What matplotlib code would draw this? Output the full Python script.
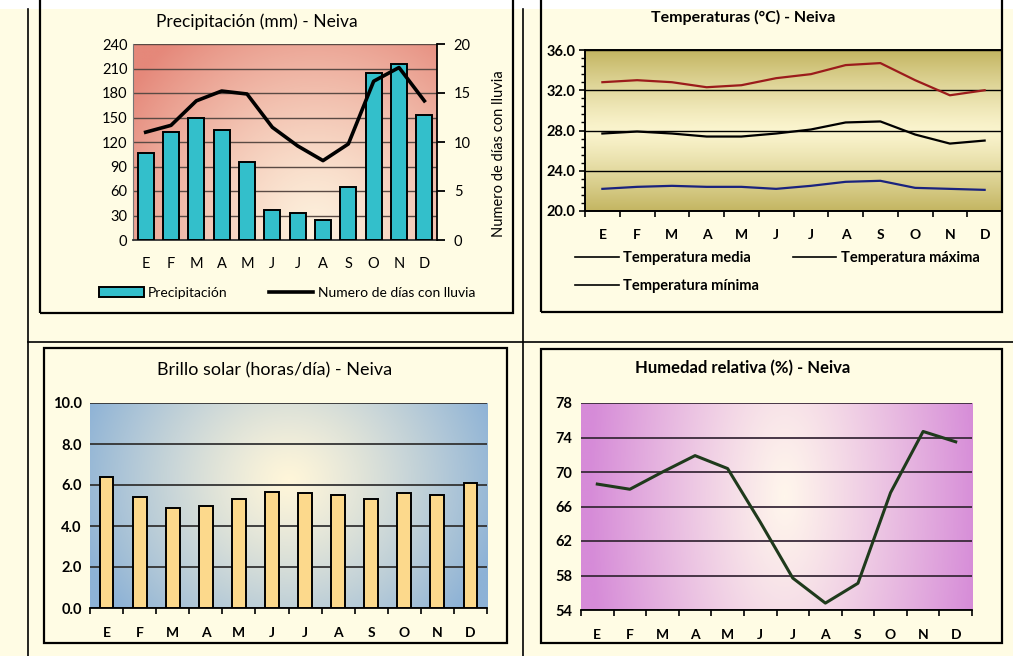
import numpy as np
import matplotlib
matplotlib.use('Agg')
import matplotlib.pyplot as plt
from matplotlib.colors import LinearSegmentedColormap
from matplotlib.patches import Rectangle, Patch
from matplotlib.lines import Line2D
from matplotlib.ticker import AutoMinorLocator

plt.rcParams['font.family'] = ['Lato', 'DejaVu Sans']

W, H = 1013, 656

# datos climaticos - Neiva
meses = ['E', 'F', 'M', 'A', 'M', 'J', 'J', 'A', 'S', 'O', 'N', 'D']
precipitacion = [107, 132, 149, 135, 96, 37, 33, 24, 65, 204, 216, 153]
dias_lluvia = [11.0, 11.7, 14.2, 15.2, 14.9, 11.5, 9.6, 8.1, 9.8, 16.2, 17.6, 14.2]
temp_maxima = [32.8, 33.0, 32.8, 32.3, 32.5, 33.2, 33.6, 34.5, 34.7, 33.0, 31.5, 32.0]
temp_media = [27.7, 27.9, 27.7, 27.4, 27.4, 27.7, 28.1, 28.8, 28.9, 27.6, 26.7, 27.0]
temp_minima = [22.2, 22.4, 22.5, 22.4, 22.4, 22.2, 22.5, 22.9, 23.0, 22.3, 22.2, 22.1]
brillo_solar = [6.4, 5.4, 4.9, 5.0, 5.3, 5.65, 5.6, 5.5, 5.3, 5.6, 5.5, 6.1]
humedad = [68.6, 68.0, 70.0, 71.9, 70.4, 64.2, 57.7, 54.8, 57.1, 67.6, 74.7, 73.5]

x = np.arange(len(meses))

fig = plt.figure(figsize=(W / 100, H / 100), dpi=100)
fig.patch.set_facecolor('#FFFCE4')


def px_axes(x0, y0, x1, y1):
    return fig.add_axes([x0 / W, 1 - y1 / H, (x1 - x0) / W, (y1 - y0) / H])


def px_box(x0, y0, x1, y1, lw=1.6, **kw):
    fig.add_artist(Rectangle((x0 / W, 1 - y1 / H), (x1 - x0) / W, (y1 - y0) / H,
                             transform=fig.transFigure, lw=lw, **kw))


def px_line(xs, ys, lw=1.2):
    fig.add_artist(Line2D([v / W for v in xs], [1 - v / H for v in ys],
                          transform=fig.transFigure, color='black', lw=lw))


def gradient_bg(ax, light, dark, cx, cy, sx, sy, power=1.0):
    gx, gy = np.meshgrid(np.linspace(0, 1, 300), np.linspace(0, 1, 200))
    t = np.sqrt(((gx - cx) / sx) ** 2 + ((gy - cy) / sy) ** 2)
    t = np.clip(t, 0, 1) ** power
    cmap = LinearSegmentedColormap.from_list('g', [light, dark])
    ax.imshow(t, cmap=cmap, vmin=0, vmax=1, extent=(0, 1, 0, 1), origin='lower',
              aspect='auto', transform=ax.transAxes, zorder=0, interpolation='bilinear')


# marco general
px_box(0, 0, W, 9, lw=0, facecolor='white', edgecolor='none')
px_line([28, 28], [9, H], lw=1.2)
px_line([523, 523], [9, H], lw=1.2)
px_line([28, W], [342, 342], lw=1.2)

# ---------------- Precipitacion ----------------
px_box(40, -5, 513, 313, fill=False, edgecolor='black')
ax1 = px_axes(133, 44, 437, 240)
gradient_bg(ax1, '#FDF0DC', '#E5887A', 0.6, 0.05, 0.75, 1.25, power=1.3)
ax1.bar(x, precipitacion, width=0.62, color='#33BFCB', edgecolor='black', lw=1.4, zorder=3)
ax1.set_xlim(-0.5, 11.5)
ax1.set_ylim(0, 240)
ax1.set_yticks(range(0, 241, 30))
ax1.yaxis.grid(True, color='#5A4A44', lw=1.0)
ax1.set_axisbelow(True)
ax1.set_xticks(x)
ax1.set_xticklabels(meses)
ax1.tick_params(axis='x', length=0, pad=12, labelsize=10.5)
ax1.tick_params(axis='y', length=0, pad=4, labelsize=10.5)
for s in ['top', 'right']:
    ax1.spines[s].set_visible(False)
ax1.spines['left'].set_color('#777777')
ax1.spines['bottom'].set_color('#333333')
ax1.spines['bottom'].set_linewidth(1.3)

ax1b = ax1.twinx()
ax1b.plot(x, dias_lluvia, color='black', lw=2.6, solid_joinstyle='round', zorder=4)
ax1b.set_ylim(0, 20)
ax1b.set_yticks(range(0, 21, 5))
ax1b.tick_params(axis='y', length=6, width=1.3, pad=6, labelsize=10.5)
ax1b.set_ylabel('Numero de días con lluvia', fontsize=10.5)
ax1b.yaxis.set_label_coords(1.18, 0.44)
for s in ['top', 'left', 'bottom']:
    ax1b.spines[s].set_visible(False)
ax1b.spines['right'].set_linewidth(1.3)
fig.text(257 / W, 1 - 22 / H, 'Precipitación (mm) - Neiva', ha='center', va='center', fontsize=12.5)
ax1.legend([Patch(facecolor='#33BFCB', edgecolor='black', lw=1.4),
            Line2D([], [], color='black', lw=2.6)],
           ['Precipitación', 'Numero de días con lluvia'],
           loc='center', bbox_to_anchor=(287 / W, 1 - 293 / H), bbox_transform=fig.transFigure,
           ncol=2, frameon=False, fontsize=10, handlelength=3.2, columnspacing=3.0,
           handletextpad=0.3)

# ---------------- Temperaturas ----------------
px_box(541, -5, 1002, 312, fill=False, edgecolor='black')
ax2 = px_axes(585, 50, 1002, 211)
gradient_bg(ax2, '#FBF5CF', '#BDAE55', 0.5, 0.5, 10.0, 0.55, power=1.2)
ax2.plot(x, temp_maxima, color='#9B1B1B', lw=1.6, zorder=3)
ax2.plot(x, temp_media, color='black', lw=1.6, zorder=3)
ax2.plot(x, temp_minima, color='#1A237E', lw=1.6, zorder=3)
ax2.set_xlim(-0.5, 11.5)
ax2.set_ylim(20, 36)
ax2.set_yticks(range(20, 37, 4))
ax2.set_yticklabels([f'{v:.1f}' for v in range(20, 37, 4)])
ax2.yaxis.set_minor_locator(AutoMinorLocator(5))
ax2.yaxis.grid(True, color='black', lw=1.0)
ax2.set_axisbelow(True)
ax2.set_xticks(x)
ax2.set_xticklabels(meses)
ax2.set_xticks(np.arange(-0.5, 12, 1), minor=True)
ax2.tick_params(axis='x', which='major', length=0, pad=13, labelsize=10)
ax2.tick_params(axis='x', which='minor', length=4, width=1.2)
ax2.tick_params(axis='y', which='major', length=4, width=1.2, pad=3, labelsize=10.5)
ax2.tick_params(axis='y', which='minor', length=3, width=1.0)
for lab in ax2.get_xticklabels() + ax2.get_yticklabels():
    lab.set_fontweight('bold')
for s in ax2.spines.values():
    s.set_linewidth(1.4)
fig.text(743 / W, 1 - 17 / H, 'Temperaturas (°C) - Neiva', ha='center', va='center',
         fontsize=11.5, fontweight='bold')
ax2.legend([Line2D([], [], color='black', lw=1.2),
            Line2D([], [], color='black', lw=1.2),
            Line2D([], [], color='black', lw=1.2)],
           ['Temperatura media', 'Temperatura mínima', 'Temperatura máxima'],
           loc='center left', bbox_to_anchor=(562 / W, 1 - 272 / H), bbox_transform=fig.transFigure,
           ncol=2, frameon=False, prop={'size': 10.5, 'weight': 'bold'},
           handlelength=3.0, columnspacing=2.3, handletextpad=0.3, labelspacing=1.0)

# ---------------- Brillo solar ----------------
px_box(44, 348, 507, 643, fill=False, edgecolor='black')
ax3 = px_axes(90, 403, 487, 608)
gradient_bg(ax3, '#FFF6DA', '#8DB2D6', 0.5, 0.62, 0.55, 1.0, power=1.2)
ax3.bar(x, brillo_solar, width=0.42, color='#FCD98C', edgecolor='black', lw=1.4, zorder=3)
ax3.set_xlim(-0.5, 11.5)
ax3.set_ylim(0, 10)
ax3.set_yticks(np.arange(0, 10.1, 2))
ax3.set_yticklabels([f'{v:.1f}' for v in np.arange(0, 10.1, 2)])
ax3.yaxis.grid(True, color='#333333', lw=1.3)
ax3.set_axisbelow(True)
ax3.set_xticks(x)
ax3.set_xticklabels(meses)
ax3.set_xticks(np.arange(-0.5, 12, 1), minor=True)
ax3.tick_params(axis='x', which='major', length=0, pad=14, labelsize=10)
ax3.tick_params(axis='x', which='minor', length=4, width=1.2)
ax3.tick_params(axis='y', length=0, pad=6, labelsize=10.5)
for lab in ax3.get_xticklabels() + ax3.get_yticklabels():
    lab.set_fontweight('bold')
for s in ['top', 'right', 'left']:
    ax3.spines[s].set_visible(False)
ax3.spines['bottom'].set_linewidth(1.3)
fig.text(275 / W, 1 - 370 / H, 'Brillo solar (horas/día) - Neiva', ha='center', va='center',
         fontsize=13)

# ---------------- Humedad relativa ----------------
px_box(541, 349, 1002, 643, fill=False, edgecolor='black')
ax4 = px_axes(581, 403, 972, 610)
gradient_bg(ax4, '#FFF6EC', '#D68BD8', 0.52, 0.55, 0.5, 2.2, power=1.1)
ax4.plot(x, humedad, color='#1F3A1C', lw=2.2, zorder=3)
ax4.set_xlim(-0.5, 11.5)
ax4.set_ylim(54, 78)
ax4.set_yticks(range(54, 79, 4))
ax4.yaxis.grid(True, color='#3A2A3A', lw=1.3)
ax4.set_axisbelow(True)
ax4.set_xticks(x)
ax4.set_xticklabels(meses)
ax4.set_xticks(np.arange(-0.5, 12, 1), minor=True)
ax4.tick_params(axis='x', which='major', length=0, pad=14, labelsize=10)
ax4.tick_params(axis='x', which='minor', length=4, width=1.2)
ax4.tick_params(axis='y', length=0, pad=6, labelsize=10.5)
for lab in ax4.get_xticklabels() + ax4.get_yticklabels():
    lab.set_fontweight('bold')
for s in ['top', 'right', 'left']:
    ax4.spines[s].set_visible(False)
ax4.spines['bottom'].set_linewidth(1.3)
fig.text(743 / W, 1 - 368 / H, 'Humedad relativa (%) - Neiva', ha='center', va='center',
         fontsize=12, fontweight='bold')

fig.savefig('out.png', dpi=100, facecolor=fig.get_facecolor())
